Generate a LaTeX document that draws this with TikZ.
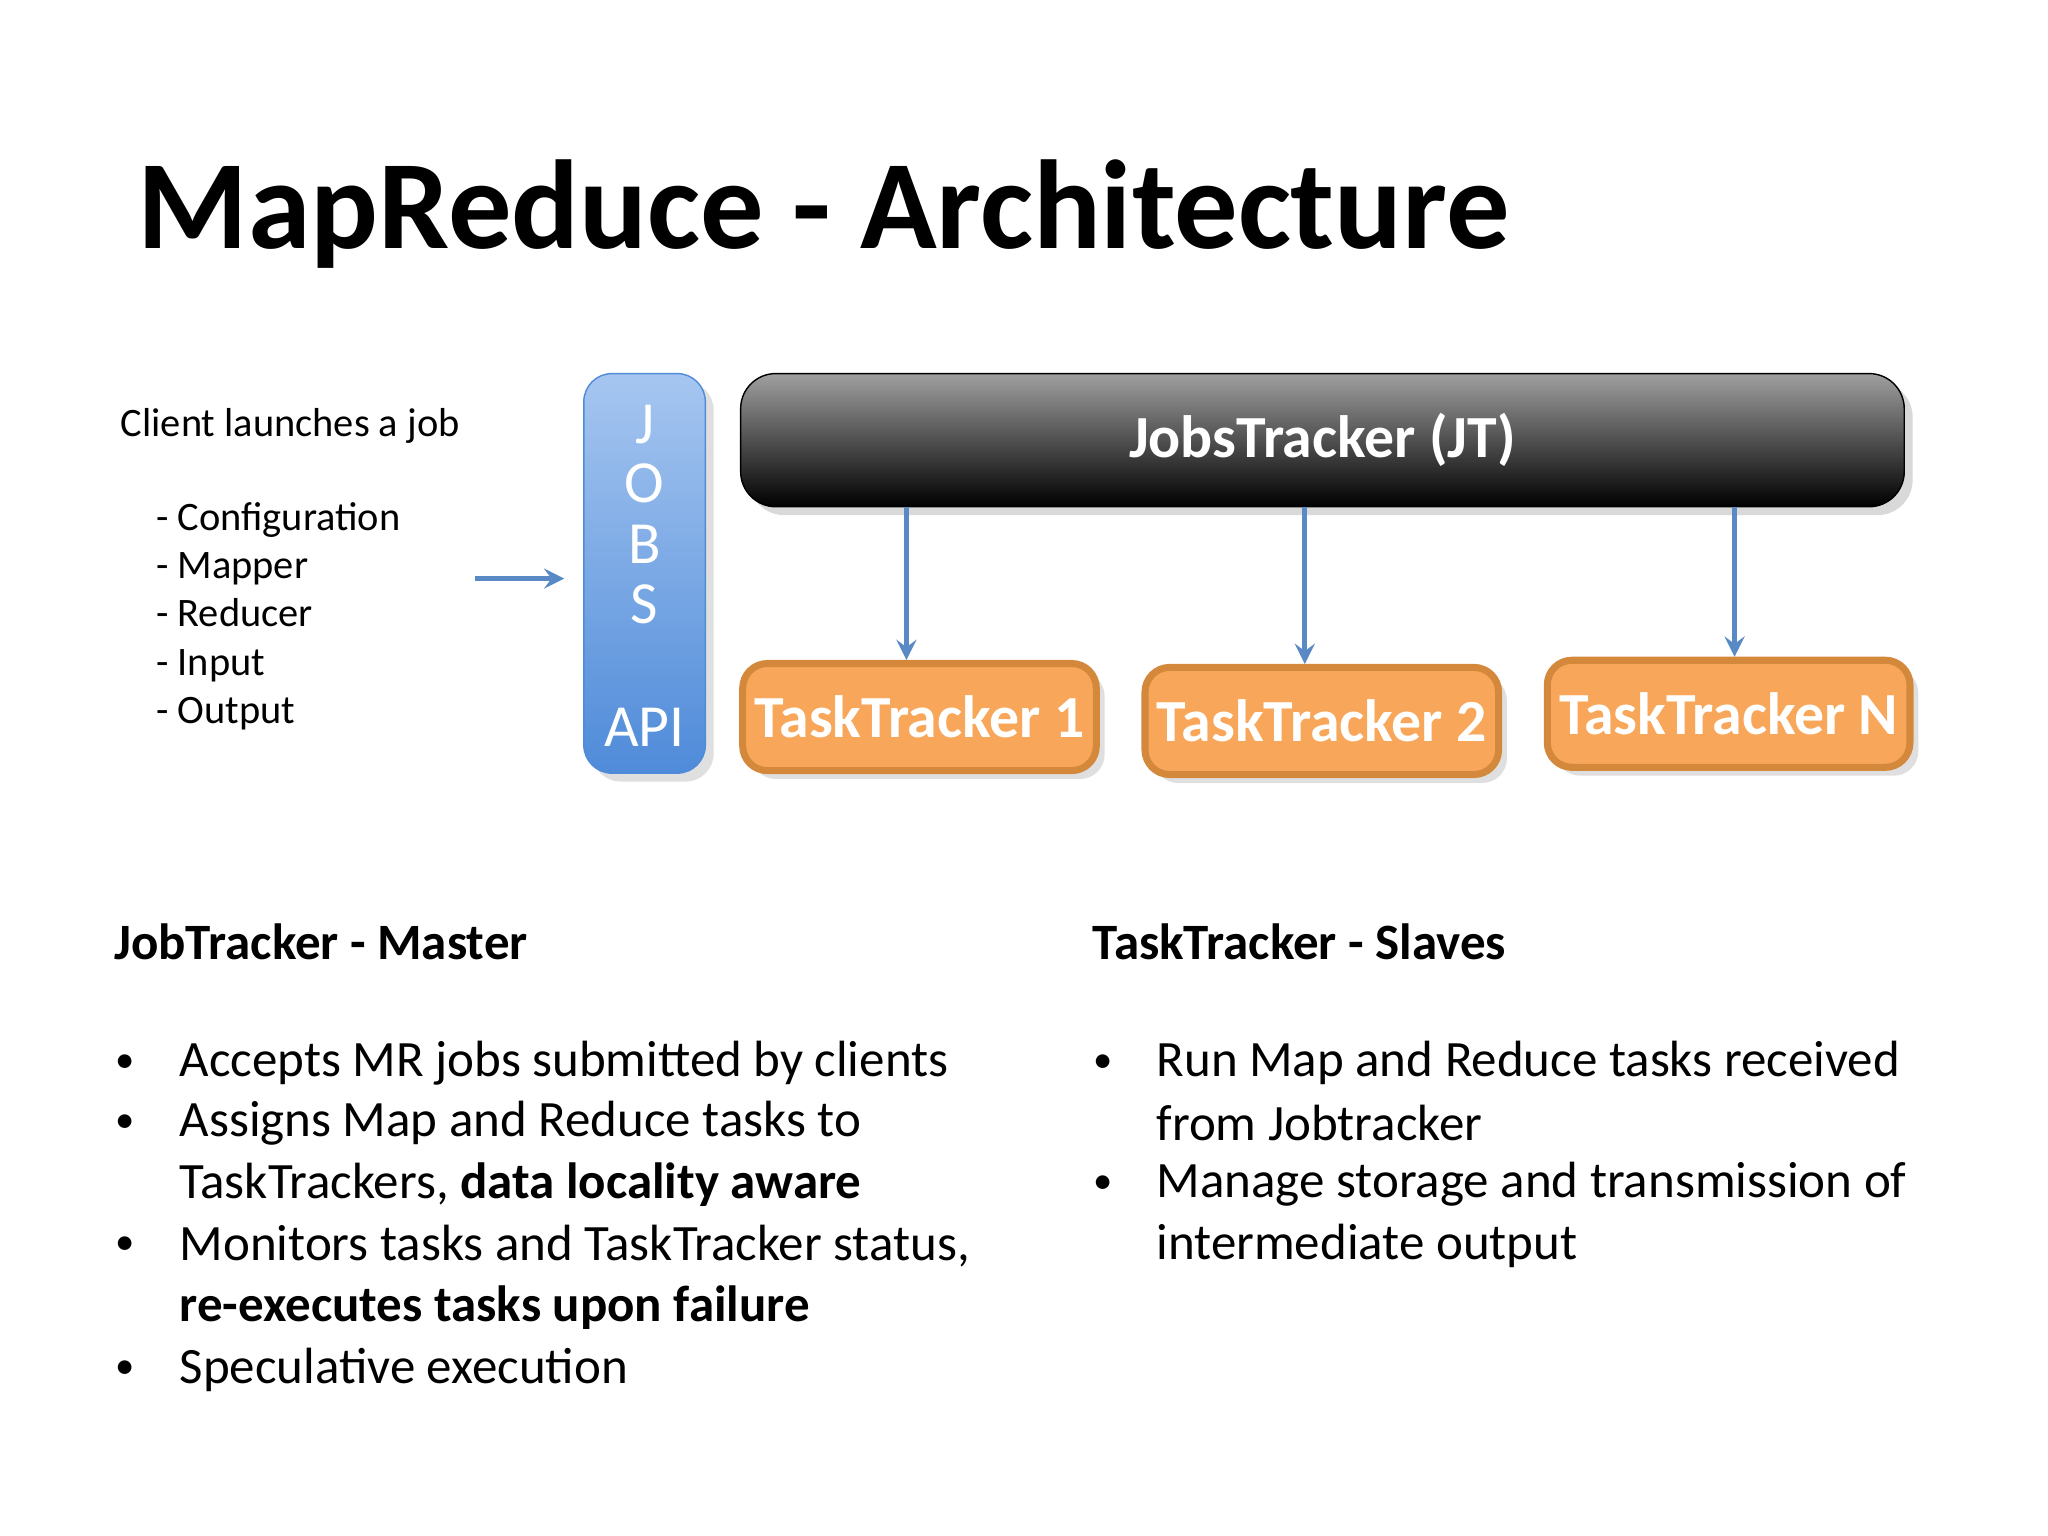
\documentclass[tikz,border=0pt]{standalone}
\usepackage{fontspec}
\setmainfont{Carlito}
\usetikzlibrary{shadows}
\definecolor{ttfill}{HTML}{F8A65A}
\definecolor{ttedge}{HTML}{D4883C}
\definecolor{jobtop}{HTML}{A6C6F0}
\definecolor{jobbot}{HTML}{4F8BD9}
\definecolor{arr}{HTML}{5A8AC6}
\tikzset{
  tracker/.style={draw=ttedge,line width=2pt,fill=ttfill,rounded corners=7pt,
    minimum width=3.526cm,minimum height=1.071cm,text=white,font=\fontsize{17}{20}\selectfont\bfseries,
    drop shadow={opacity=0.25}},
  down/.style={arr,line width=1.5pt,-stealth},
  item/.style={anchor=west,inner sep=0pt,font=\fontsize{14.5}{17}\selectfont},
}
\begin{document}
\begin{tikzpicture}[x=0.01306cm,y=-0.01306cm]
  \useasboundingbox (0,0) rectangle (1568,1176);
  \node[anchor=base west,inner sep=0pt,font=\fontsize{36}{42}\selectfont\bfseries] (title) at (105,190) {MapReduce - Architecture};

  % client side
  \node[anchor=west,inner sep=0pt,font=\fontsize{11.5}{13.7}\selectfont] (client) at (92,326) {Client launches a job};
  \node[anchor=north west,inner sep=0pt,align=left,font=\fontsize{11.5}{13.75}\selectfont] (params) at (119,384)
    {- Configuration\\- Mapper\\- Reducer\\- Input\\- Output};
  \coordinate (cl) at (364,443);
  \coordinate (cr) at (432,443);
  \draw[arr,line width=1.5pt,-stealth] (cl) -- (cr);

  % jobs api
  \node[draw=jobbot,fill=jobbot,top color=jobtop,bottom color=jobbot,rounded corners=8pt,
    minimum width=1.215cm,minimum height=3.996cm,drop shadow={opacity=0.25}] (jobs) at (493.5,439) {};
  \foreach \l/\y in {J/325,O/370,B/417,S/463,API/557}
    \node[text=white,font=\fontsize{17}{20}\selectfont] at (493.5,\y) {\l};

  % job tracker
  \node[draw=black,top color=gray!75,bottom color=black,rounded corners=10pt,
    minimum width=11.636cm,minimum height=1.332cm,text=white,font=\fontsize{17}{20}\selectfont\bfseries,
    drop shadow={opacity=0.3}] (jt) at (1012.5,337) {JobsTracker (JT)};

  % task trackers
  \node[tracker] (tt1) at (704,549) {TaskTracker 1};
  \node[tracker] (tt2) at (1012,552) {TaskTracker 2};
  \node[tracker] (ttn) at (1323.5,546.5) {TaskTracker N};
  \coordinate (a1) at (694,0);
  \coordinate (a2) at (999,0);
  \coordinate (a3) at (1328,0);
  \draw[down] (jt.south -| a1) -- (tt1.north -| a1);
  \draw[down] (jt.south -| a2) -- (tt2.north -| a2);
  \draw[down] (jt.south -| a3) -- (ttn.north -| a3);

  % master column
  \node[item,font=\fontsize{14.5}{17}\selectfont\bfseries] (master) at (87,721) {JobTracker - Master};
  \foreach \y in {814,860,954,1049} \node[item,font=\fontsize{11}{13}\selectfont] at (88,\y) {•};
  \node[item] (m1) at (137,814) {Accepts MR jobs submitted by clients};
  \node[item] (m2) at (137,860) {Assigns Map and Reduce tasks to};
  \node[item] (m3) at (137,907) {TaskTrackers, \textbf{data locality aware}};
  \node[item] (m4) at (137,954) {Monitors tasks and TaskTracker status,};
  \node[item] (m5) at (137,1001) {\textbf{re-executes tasks upon failure}};
  \node[item] (m6) at (137,1049) {Speculative execution};

  % slave column
  \node[item,font=\fontsize{14.5}{17}\selectfont\bfseries] (slaves) at (836,721) {TaskTracker - Slaves};
  \foreach \y in {814,907} \node[item,font=\fontsize{11}{13}\selectfont] at (837,\y) {•};
  \node[item] (s1) at (885,814) {Run Map and Reduce tasks received};
  \node[item] (s2) at (885,860) {from Jobtracker};
  \node[item] (s3) at (885,907) {Manage storage and transmission of};
  \node[item] (s4) at (885,954) {intermediate output};
\end{tikzpicture}
\end{document}
